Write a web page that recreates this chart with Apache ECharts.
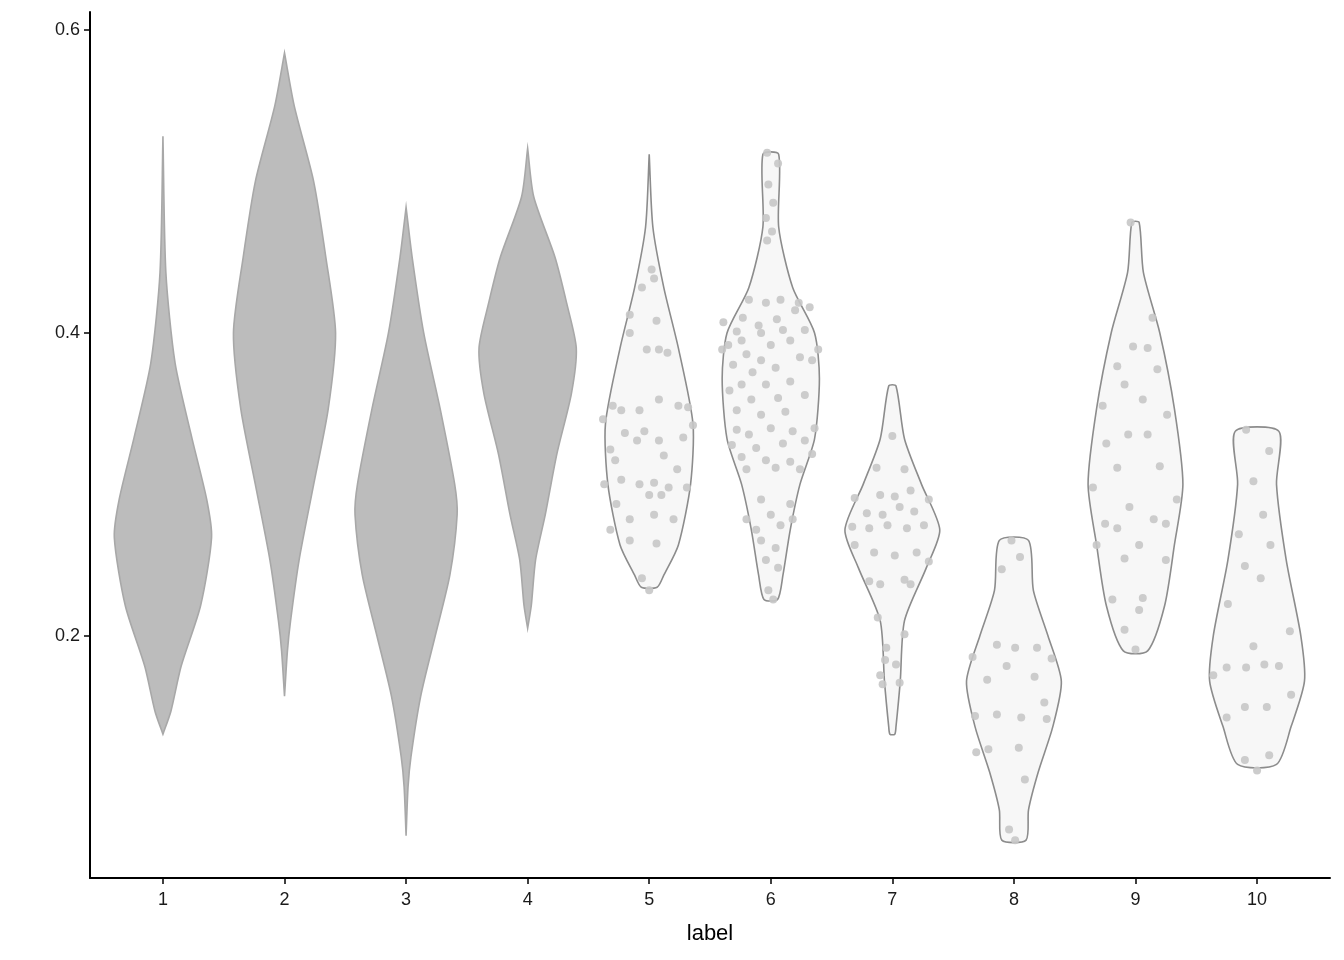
<!DOCTYPE html>
<html><head><meta charset="utf-8">
<script src="https://cdn.jsdelivr.net/npm/echarts@6/dist/echarts.min.js"></script>
<style>html,body{margin:0;padding:0;background:#fff}#c{width:1344px;height:960px}</style>
</head><body><div id="c"></div>
<script>
const categories = ['1','2','3','4','5','6','7','8','9','10'];
const yTicks = [0.2, 0.4, 0.6];
// Violin outlines: [value, half-width as fraction of category spacing]
const violin1 = [[0.53,0],[0.44,0.024],[0.38,0.10],[0.33,0.24],[0.29,0.36],[0.265,0.40],[0.22,0.31],[0.18,0.15],[0.15,0.065],[0.135,0]];
const violin2 = [[0.585,0],[0.55,0.08],[0.5,0.24],[0.45,0.34],[0.4,0.42],[0.35,0.36],[0.3,0.24],[0.25,0.12],[0.21,0.05],[0.19,0.024],[0.16,0]];
const violin3 = [[0.483,0],[0.45,0.05],[0.4,0.145],[0.35,0.28],[0.3,0.40],[0.28,0.42],[0.24,0.36],[0.2,0.24],[0.16,0.12],[0.12,0.04],[0.1,0.016],[0.068,0]];
const violin4 = [[0.522,0],[0.49,0.05],[0.45,0.225],[0.42,0.32],[0.39,0.40],[0.36,0.36],[0.32,0.24],[0.28,0.145],[0.25,0.065],[0.22,0.03],[0.205,0]];
const violin5 = [[0.518,0],[0.47,0.03],[0.43,0.12],[0.39,0.24],[0.34,0.36],[0.3,0.34],[0.26,0.24],[0.24,0.12],[0.232,0.065]];
const violin6 = [[0.518,0.065],[0.47,0.065],[0.43,0.18],[0.4,0.36],[0.37,0.40],[0.33,0.36],[0.3,0.24],[0.27,0.16],[0.24,0.10],[0.224,0.056]];
const violin7 = [[0.365,0.03],[0.33,0.10],[0.3,0.24],[0.27,0.39],[0.245,0.28],[0.21,0.10],[0.17,0.065],[0.14,0.03],[0.135,0.02]];
const violin8 = [[0.263,0.12],[0.23,0.16],[0.2,0.28],[0.17,0.39],[0.14,0.32],[0.11,0.20],[0.085,0.12],[0.065,0.10]];
const violin9 = [[0.473,0.03],[0.44,0.065],[0.4,0.20],[0.35,0.32],[0.3,0.39],[0.26,0.32],[0.22,0.24],[0.19,0.10]];
const violin10 = [[0.335,0.18],[0.3,0.16],[0.25,0.24],[0.2,0.36],[0.17,0.39],[0.14,0.28],[0.115,0.16]];
const violins = [violin1,violin2,violin3,violin4,violin5,violin6,violin7,violin8,violin9,violin10];
const filledGroups = [0,1,2,3];
// Points: [value, jitter as fraction of category spacing]
const points5 = [[0.442,0.02],[0.436,0.04],[0.430,-0.06],[0.412,-0.16],[0.408,0.06],[0.400,-0.16],[0.389,-0.02],[0.389,0.08],[0.387,0.15],[0.352,-0.30],[0.349,-0.23],[0.349,-0.08],[0.356,0.08],[0.352,0.24],[0.351,0.32],[0.343,-0.38],[0.334,-0.20],[0.335,-0.04],[0.329,0.08],[0.339,0.36],[0.323,-0.32],[0.329,-0.10],[0.319,0.12],[0.331,0.28],[0.300,-0.37],[0.303,-0.23],[0.300,-0.08],[0.301,0.04],[0.298,0.16],[0.298,0.31],[0.287,-0.27],[0.293,0.00],[0.293,0.10],[0.277,-0.16],[0.280,0.04],[0.277,0.20],[0.270,-0.32],[0.263,-0.16],[0.261,0.06],[0.238,-0.06],[0.230,0.00],[0.316,-0.28],[0.310,0.23]];
const points6 = [[0.519,-0.03],[0.512,0.06],[0.498,-0.02],[0.486,0.02],[0.476,-0.04],[0.467,0.01],[0.461,-0.03],[0.422,-0.18],[0.420,-0.04],[0.422,0.08],[0.420,0.23],[0.417,0.32],[0.407,-0.39],[0.410,-0.23],[0.405,-0.10],[0.409,0.05],[0.415,0.20],[0.401,-0.28],[0.400,-0.08],[0.402,0.10],[0.402,0.28],[0.392,-0.35],[0.395,-0.24],[0.392,0.00],[0.395,0.16],[0.389,0.39],[0.389,-0.40],[0.386,-0.20],[0.382,-0.08],[0.384,0.24],[0.379,-0.31],[0.374,-0.15],[0.377,0.04],[0.382,0.34],[0.366,-0.24],[0.366,-0.04],[0.368,0.16],[0.362,-0.34],[0.356,-0.16],[0.357,0.06],[0.359,0.28],[0.349,-0.28],[0.346,-0.08],[0.348,0.12],[0.336,-0.28],[0.333,-0.18],[0.337,0.00],[0.335,0.18],[0.337,0.36],[0.326,-0.32],[0.324,-0.12],[0.327,0.10],[0.329,0.28],[0.318,-0.24],[0.316,-0.04],[0.315,0.16],[0.320,0.34],[0.310,-0.20],[0.311,0.04],[0.310,0.24],[0.290,-0.08],[0.287,0.16],[0.277,-0.20],[0.280,0.00],[0.277,0.18],[0.270,-0.12],[0.273,0.08],[0.263,-0.08],[0.258,0.04],[0.250,-0.04],[0.245,0.06],[0.230,-0.02],[0.224,0.02]];
const points7 = [[0.332,0],[0.311,-0.13],[0.310,0.1],[0.291,-0.31],[0.293,-0.1],[0.292,0.02],[0.296,0.15],[0.290,0.30],[0.281,-0.21],[0.280,-0.08],[0.285,0.06],[0.282,0.18],[0.272,-0.33],[0.271,-0.19],[0.273,-0.04],[0.271,0.12],[0.273,0.26],[0.260,-0.31],[0.255,-0.15],[0.253,0.02],[0.255,0.2],[0.249,0.3],[0.236,-0.19],[0.234,-0.1],[0.237,0.1],[0.234,0.15],[0.212,-0.12],[0.201,0.1],[0.192,-0.05],[0.184,-0.06],[0.174,-0.1],[0.181,0.03],[0.168,-0.08],[0.169,0.06]];
const points8 = [[0.263,-0.02],[0.244,-0.1],[0.252,0.05],[0.194,-0.14],[0.192,0.01],[0.192,0.19],[0.186,-0.34],[0.185,0.31],[0.180,-0.06],[0.171,-0.22],[0.173,0.17],[0.156,0.25],[0.147,-0.32],[0.148,-0.14],[0.146,0.06],[0.145,0.27],[0.123,-0.31],[0.125,-0.21],[0.126,0.04],[0.105,0.09],[0.072,-0.04],[0.065,0.01]];
const points9 = [[0.473,-0.04],[0.410,0.14],[0.378,-0.15],[0.391,-0.02],[0.390,0.10],[0.376,0.18],[0.366,-0.09],[0.352,-0.27],[0.356,0.06],[0.346,0.26],[0.327,-0.24],[0.333,-0.06],[0.333,0.10],[0.311,-0.15],[0.312,0.20],[0.298,-0.35],[0.285,-0.05],[0.290,0.34],[0.274,-0.25],[0.271,-0.15],[0.277,0.15],[0.274,0.25],[0.260,-0.32],[0.260,0.03],[0.251,-0.09],[0.250,0.25],[0.224,-0.19],[0.225,0.06],[0.217,0.03],[0.204,-0.09],[0.191,0]];
const points10 = [[0.336,-0.09],[0.322,0.10],[0.302,-0.03],[0.280,0.05],[0.267,-0.15],[0.260,0.11],[0.246,-0.10],[0.238,0.03],[0.221,-0.24],[0.193,-0.03],[0.203,0.27],[0.179,-0.25],[0.174,-0.36],[0.179,-0.09],[0.181,0.06],[0.180,0.18],[0.161,0.28],[0.153,-0.10],[0.153,0.08],[0.146,-0.25],[0.118,-0.10],[0.121,0.10],[0.111,0]];
const pointGroups = {4:points5,5:points6,6:points7,7:points8,8:points9,9:points10};

const pointData = [];
Object.keys(pointGroups).forEach(g => pointGroups[g].forEach(p => pointData.push([+g+1, p[0], p[1]])));
const xTicks = categories.map((c,i)=>i+1);

const chart = echarts.init(document.getElementById('c'));
chart.setOption({
  backgroundColor:'#fff',
  animation:false,
  grid:{left:90,right:14,top:12,bottom:82},
  xAxis:{type:'value',min:0.4,max:10.6,interval:1,
    name:'label',nameLocation:'middle',nameGap:45,nameTextStyle:{color:'#000',fontSize:22,fontFamily:'Liberation Sans'},
    axisLine:{lineStyle:{color:'#000',width:2}},
    axisTick:{show:true,length:6,customValues:xTicks,lineStyle:{color:'#000',width:1.5}},
    axisLabel:{color:'#1a1a1a',fontSize:18,margin:13,customValues:xTicks,fontFamily:'Liberation Sans',formatter:v=>categories[Math.round(v)-1]},
    splitLine:{show:false}},
  yAxis:{type:'value',min:0.04,max:0.612,interval:0.02,
    axisLine:{show:true,lineStyle:{color:'#000',width:2}},
    axisTick:{show:true,length:6,customValues:yTicks,lineStyle:{color:'#000',width:1.5}},
    axisLabel:{color:'#1a1a1a',fontSize:18,margin:10,customValues:yTicks,fontFamily:'Liberation Sans',formatter:v=>v.toFixed(1)},
    splitLine:{show:false}},
  series:[
    {type:'custom',data:violins.map((v,i)=>[i+1]),
      renderItem:(params,api)=>{
        const x=api.value(0), g=x-1, prof=violins[g];
        const bw=api.size([1,0])[0];
        const pts=[];
        prof.forEach(p=>{const c=api.coord([x,p[0]]);pts.push([c[0]+p[1]*bw,c[1]]);});
        for(let i=prof.length-1;i>=0;i--){const c=api.coord([x,prof[i][0]]);pts.push([c[0]-prof[i][1]*bw,c[1]]);}
        const filled=filledGroups.indexOf(g)>=0;
        return {type:'polygon',shape:{points:pts,smooth:0.25},style:{fill:filled?'#bcbcbc':'#f7f7f7',stroke:filled?'#a8a8a8':'#8c8c8c',lineWidth:1.6}};
      }},
    {type:'custom',data:pointData,
      renderItem:(params,api)=>{
        const c=api.coord([api.value(0),api.value(1)]);
        const bw=api.size([1,0])[0];
        return {type:'circle',shape:{cx:c[0]+api.value(2)*bw,cy:c[1],r:4},style:{fill:'#c6c6c6',opacity:0.9}};
      }}
  ]
});
</script></body></html>
